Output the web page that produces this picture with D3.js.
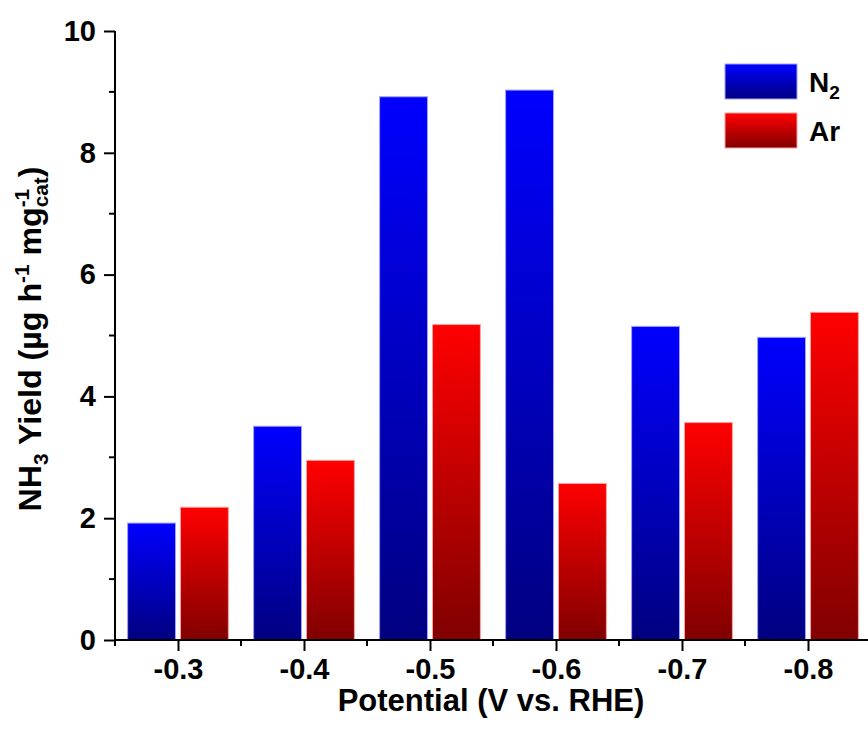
<!DOCTYPE html>
<html>
<head>
<meta charset="utf-8">
<script src="https://cdn.jsdelivr.net/npm/d3@7"></script>
<style>
  body { margin: 0; background: #fff; }
  text { font-family: "Liberation Sans", Arial, sans-serif; font-weight: bold; fill: #000; }
</style>
</head>
<body>
<div id="chart"></div>
<script>
// potentials (V vs. RHE) and yields
var potentials = [-0.3, -0.4, -0.5, -0.6, -0.7, -0.8];
var n2Yield = [1.92, 3.51, 8.92, 9.03, 5.15, 4.97];
var arYield = [2.18, 2.95, 5.18, 2.57, 3.57, 5.38];
var seriesNames = ["N2", "Ar"];
var yTicks = [0, 2, 4, 6, 8, 10];

var W = 868, H = 746;
var svg = d3.select("#chart").append("svg")
    .attr("width", W).attr("height", H);

var x = d3.scaleLinear().domain([-0.25, -0.85]).range([115, 871]);
var y = d3.scaleLinear().domain([0, 10]).range([640, 31]);

// vertical gradients, bright at top, dark at bottom
var defs = svg.append("defs");
function grad(id, top, bottom) {
    var g = defs.append("linearGradient").attr("id", id)
        .attr("x1", 0).attr("y1", 0).attr("x2", 0).attr("y2", 1);
    g.append("stop").attr("offset", "0%").attr("stop-color", top);
    g.append("stop").attr("offset", "100%").attr("stop-color", bottom);
}
grad("gBlue", "#0000ff", "#000080");
grad("gRed", "#ff0000", "#800000");

var step = x(-0.4) - x(-0.3);
var bw = step * 0.38;
var gap = step * 0.04;

var rows = potentials.map(function (p, i) { return { p: p, n2: n2Yield[i], ar: arYield[i] }; });

svg.selectAll(".barN2")
    .data(rows)
    .join("rect")
    .attr("class", "barN2")
    .attr("x", d => x(d.p) - gap / 2 - bw)
    .attr("y", d => y(d.n2))
    .attr("width", bw)
    .attr("height", d => y(0) - y(d.n2))
    .attr("fill", "url(#gBlue)")
    .attr("stroke", "#a0a0ff")
    .attr("stroke-width", 1);

svg.selectAll(".barAr")
    .data(rows)
    .join("rect")
    .attr("class", "barAr")
    .attr("x", d => x(d.p) + gap / 2)
    .attr("y", d => y(d.ar))
    .attr("width", bw)
    .attr("height", d => y(0) - y(d.ar))
    .attr("fill", "url(#gRed)")
    .attr("stroke", "#ffa0a0")
    .attr("stroke-width", 1);

// axes
var xAxis = svg.append("g")
    .attr("transform", "translate(0," + y(0) + ")")
    .call(d3.axisBottom(x).tickValues(potentials).tickSize(11).tickPadding(7)
        .tickFormat(d3.format(".1f")));
var minorX = d3.range(-0.25, -0.86, -0.1);
xAxis.selectAll(".minor").data(minorX).join("line")
    .attr("class", "minor")
    .attr("x1", d => x(d)).attr("x2", d => x(d))
    .attr("y1", 0).attr("y2", 6)
    .attr("stroke", "#000").attr("stroke-width", 2);

var yAxis = svg.append("g")
    .attr("transform", "translate(" + x(-0.25) + ",0)")
    .call(d3.axisLeft(y).tickValues(yTicks).tickSize(11).tickPadding(8));
yAxis.selectAll(".minor").data([1, 3, 5, 7, 9]).join("line")
    .attr("class", "minor")
    .attr("x1", 0).attr("x2", -6)
    .attr("y1", d => y(d)).attr("y2", d => y(d))
    .attr("stroke", "#000").attr("stroke-width", 2);

[xAxis, yAxis].forEach(function (a) {
    a.attr("font-size", null).attr("font-family", null);
    a.select(".domain").attr("stroke-width", 2).attr("d",
        a === xAxis ? "M" + x(-0.25) + ",0H" + W : "M0," + y(0) + "V" + y(10));
    a.selectAll(".tick line").attr("stroke-width", 2);
    a.selectAll(".tick text").style("font-size", "29px");
});
xAxis.selectAll(".tick text").text(d => d3.format(".1f")(d).replace("−", "-"));

// x title
svg.append("text")
    .attr("text-anchor", "middle")
    .attr("x", 491).attr("y", 711)
    .style("font-size", "31px")
    .text("Potential (V vs. RHE)");

// y title with sub/superscripts
var yt = svg.append("text")
    .attr("text-anchor", "middle")
    .style("font-size", "31px");
yt.append("tspan").text("NH");
yt.append("tspan").style("font-size", "20px").attr("dy", 7).text("3");
yt.append("tspan").attr("dy", -7).text(" Yield (µg h");
yt.append("tspan").style("font-size", "20px").attr("dy", -12).text("-1");
yt.append("tspan").attr("dy", 12).text(" mg");
var sup = yt.append("tspan").style("font-size", "20px").attr("dy", -12).text("-1");
var supW = sup.node().getComputedTextLength();
yt.append("tspan").style("font-size", "20px").attr("dy", 19).attr("dx", -supW).text("cat");
yt.append("tspan").attr("dy", -7).text(")");
var yw = yt.node().getBBox().width;
yt.attr("transform", "translate(41,339) rotate(-90) scale(" + (345 / yw) + ",1)");

// legend
var legend = svg.append("g").attr("transform", "translate(725,64)");
var lg = legend.selectAll("g").data(seriesNames).join("g")
    .attr("transform", (d, i) => "translate(0," + i * 49 + ")");
lg.append("rect")
    .attr("width", 72).attr("height", 35)
    .attr("fill", (d, i) => i === 0 ? "url(#gBlue)" : "url(#gRed)")
    .attr("stroke", (d, i) => i === 0 ? "#a0a0ff" : "#ffa0a0");
var lt = lg.append("text")
    .attr("x", 84).attr("y", 28)
    .style("font-size", "28px");
lt.append("tspan").text(d => d.charAt(0) === "N" ? "N" : d);
lt.filter(d => d === "N2").append("tspan")
    .style("font-size", "19px").attr("dy", 7).text("2");
</script>
</body>
</html>
